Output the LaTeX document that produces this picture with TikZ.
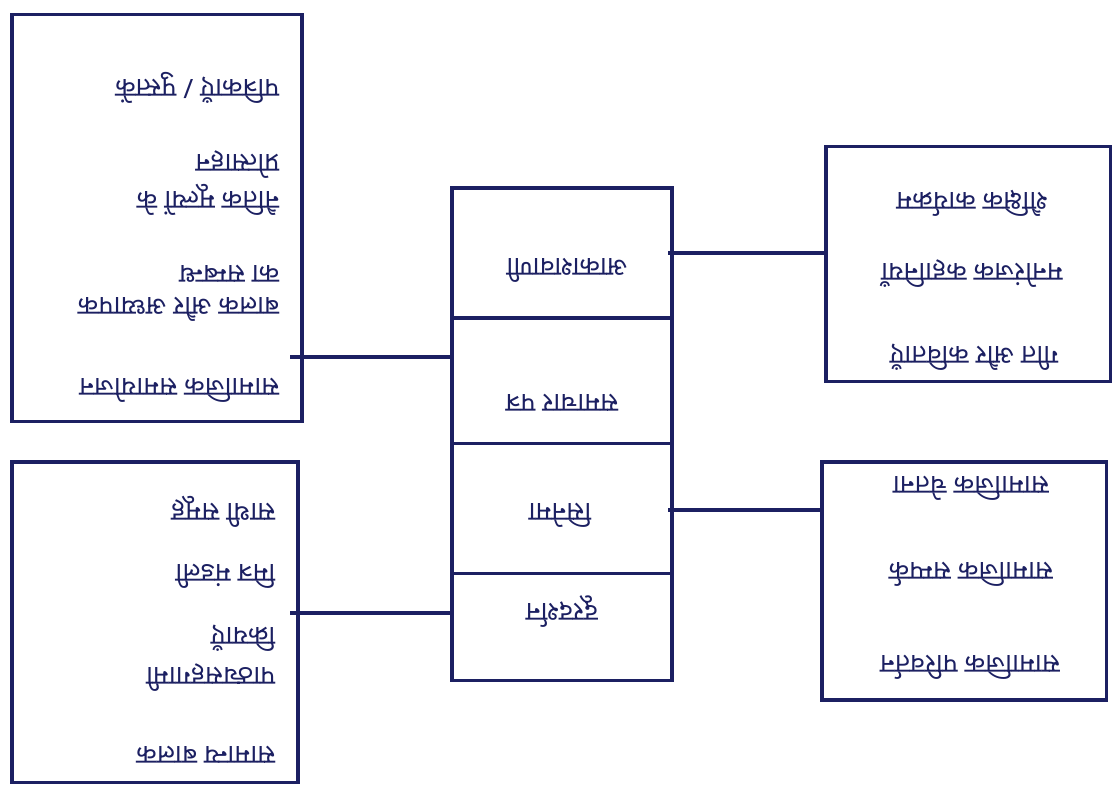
\documentclass[tikz,border=0pt]{standalone}
\usepackage{fontspec}
\newfontfamily\hindi[Script=Devanagari]{Noto Sans}
\usetikzlibrary{positioning}
\definecolor{ink}{RGB}{28,32,98}
\begin{document}
\begin{tikzpicture}[x=0.025cm, y=-0.025cm, line width=2.2pt, draw=ink,
    box/.style = {draw=ink, minimum width=#1, inner sep=0pt},
    cell/.style = {draw=ink, minimum width=5.5cm, inner sep=0pt, outer sep=0pt},
    txt/.style = {rotate=180, text=ink, inner sep=0pt,
                  font=\hindi\fontsize{19}{22}\selectfont},
    rtxt/.style = {txt, anchor=west}]
\useasboundingbox (0,0) rectangle (1112,784);
% outer boxes
\node[box=7.25cm, minimum height=10.15cm] (tl) at (157,218) {};
\node[box=7.15cm, minimum height=8cm] (bl) at (155,622) {};
\node[box=7.1cm, minimum height=5.875cm] (tr) at (968,264) {};
\node[box=7.1cm, minimum height=5.95cm] (br) at (964,581) {};
% centre column
\node[cell, minimum height=3.25cm] (c1) at (562,253) {};
\node[cell, minimum height=3.125cm, below=0pt of c1] (c2) {};
\node[cell, minimum height=3.25cm, below=0pt of c2] (c3) {};
\node[cell, minimum height=2.675cm, below=0pt of c3] (c4) {};
% connectors
\coordinate (a1) at (290,357);
\coordinate (a2) at (290,613);
\coordinate (a3) at (668,253);
\coordinate (a4) at (668,510);
\draw (a1) -- (a1 -| c2.west);
\draw (a2) -- (a2 -| c4.west);
\draw (a3) -- (a3 -| tr.west);
\draw (a4) -- (a4 -| br.west);
% centre texts
\node[txt] (t1) at (567,270) {आकाशवाणी};
\node[txt] (t2) at (562,403) {समाचार पत्र};
\node[txt] (t3) at (560,515) {सिनेमा};
\node[txt] (t4) at (562,612) {दूरदर्शन};
% right boxes
\node[txt] (r1) at (972,203) {शैक्षिक कार्यक्रम};
\node[txt] (r2) at (972,274) {मनोरंजक कहानियाँ};
\node[txt] (r3) at (974,357) {गीत और कविताएँ};
\node[txt] (s1) at (971,488) {सामाजिक चेतना};
\node[txt] (s2) at (971,574) {सामाजिक सम्पर्क};
\node[txt] (s3) at (970,667) {सामाजिक परिवर्तन};
% left boxes
\node[rtxt] (l1) at (281,88) {पत्रिकाएँ / पुस्तकें};
\node[rtxt] (l2) at (281,165) {प्रोत्साहन};
\node[rtxt] (l3) at (281,200) {नैतिक मूल्यों के};
\node[rtxt] (l4) at (281,274) {का सम्बन्ध};
\node[rtxt] (l5) at (281,309) {बालक और अध्यापक};
\node[rtxt] (l6) at (281,390) {सामाजिक समायोजन};
\node[rtxt] (m1) at (277,512) {साथी समूह};
\node[rtxt] (m2) at (277,576) {मित्र मंडली};
\node[rtxt] (m3) at (277,638) {क्रियाएँ};
\node[rtxt] (m4) at (277,678) {पाठ्यसहगामी};
\node[rtxt] (m5) at (277,755) {सामान्य बालक};
\end{tikzpicture}
\end{document}
